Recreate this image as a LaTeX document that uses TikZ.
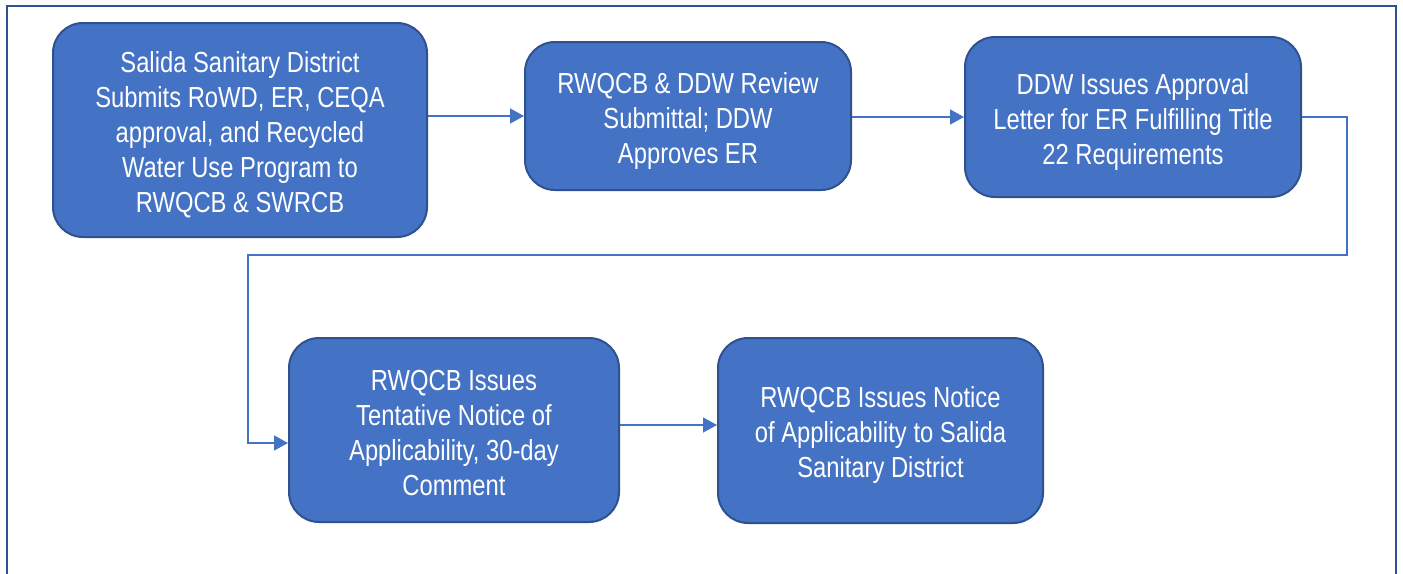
\documentclass[tikz,border=0pt]{standalone}
\usepackage{fontspec}
\usetikzlibrary{arrows.meta}
\newfontfamily\boxfont[FakeStretch=0.82]{Liberation Sans}
\definecolor{boxfill}{HTML}{4472C4}
\definecolor{boxline}{HTML}{2F528F}
\definecolor{connline}{HTML}{4472C4}
\tikzset{
  stepbox/.style={draw=boxline, line width=2pt, fill=boxfill, rounded corners=30pt, inner sep=0pt},
  boxtext/.style={text=white, align=center, inner sep=0pt,
    font=\boxfont\fontsize{29}{35}\selectfont},
  conn/.style={draw=connline, line width=1.4pt, -{Triangle[length=14pt,width=15pt]}},
}
\begin{document}
\begin{tikzpicture}[x=1pt,y=-1pt]
\clip (0,0) rectangle (1403,573);
\fill[white] (0,0) rectangle (1403,573);
\draw[boxline, line width=2.5pt] (7,6) rectangle (1396,620);
\node[stepbox, minimum width=374pt, minimum height=214pt] (b1) at (240,130) {};
\node[stepbox, minimum width=326pt, minimum height=148pt] (b2) at (688,116) {};
\node[stepbox, minimum width=336pt, minimum height=160pt] (b3) at (1133,117) {};
\node[stepbox, minimum width=330pt, minimum height=184pt] (b4) at (454,430) {};
\node[stepbox, minimum width=325pt, minimum height=185pt] (b5) at (880.5,430.5) {};
\node[boxtext] (t1) at ([yshift=-4.5pt]b1.center)
  {Salida Sanitary District\\Submits RoWD, ER, CEQA\\approval, and Recycled\\Water Use Program to\\RWQCB \& SWRCB};
\node[boxtext] (t2) at ([yshift=-4.5pt]b2.center)
  {RWQCB \& DDW Review\\Submittal; DDW\\Approves ER};
\node[boxtext] (t3) at ([yshift=-4.5pt]b3.center)
  {DDW Issues Approval\\Letter for ER Fulfilling Title\\22 Requirements};
\node[boxtext] (t4) at ([yshift=-3pt]b4.center)
  {RWQCB Issues\\Tentative Notice of\\Applicability, 30-day\\Comment};
\node[boxtext] (t5) at ([yshift=-4.5pt]b5.center)
  {RWQCB Issues Notice\\of Applicability to Salida\\Sanitary District};
\coordinate (c1) at (1347,255);
\coordinate (c2) at (248,255);
\coordinate (c3) at (248,443);
\coordinate (r5) at (660,425);
\draw[conn] (b1.east |- b2.west) -- (b2.west);
\draw[conn] (b2.east |- b3.west) -- (b3.west);
\draw[conn] (b3.east) -| (c1) -- (c2) -- (c3) -- (b4.west |- c3);
\draw[conn] (b4.east |- r5) -- (b5.west |- r5);
\end{tikzpicture}
\end{document}
